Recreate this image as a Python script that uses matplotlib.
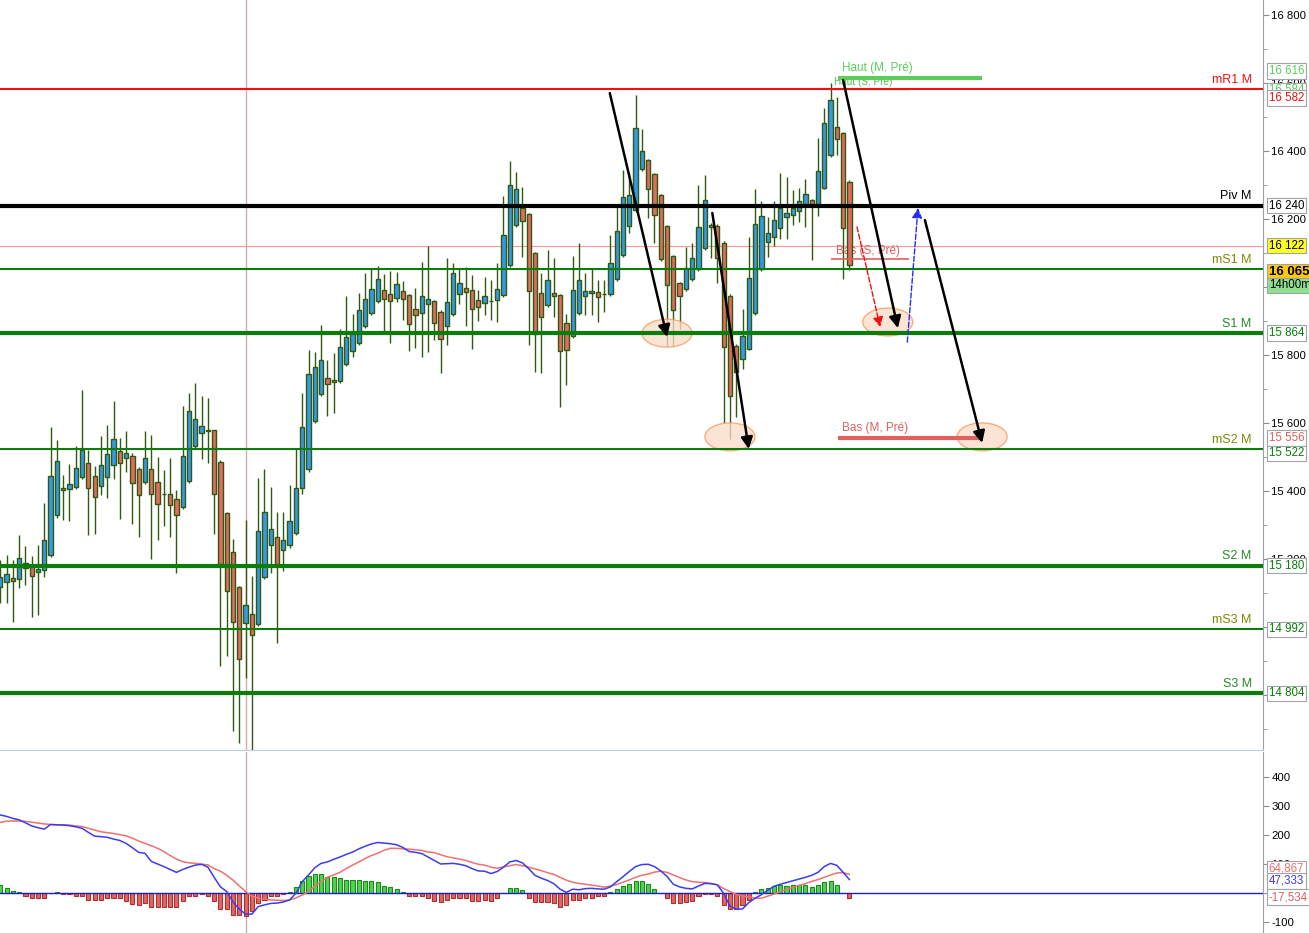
import matplotlib
matplotlib.use("Agg")
import matplotlib.pyplot as plt
import matplotlib.transforms as mtransforms
from matplotlib.patches import Ellipse
from matplotlib.ticker import FuncFormatter, MultipleLocator

plt.rcParams['font.family'] = ['Liberation Sans', 'DejaVu Sans']
plt.rcParams['axes.unicode_minus'] = False

# --- candles ---
opens = [15116, 15133, 15142, 15139, 15188, 15175, 15162, 15166, 15210, 15328,
         15407, 15404, 15412, 15440, 15481, 15445, 15413, 15442, 15475, 15516,
         15497, 15504, 15463, 15425, 15463, 15425, 15392, 15392, 15375, 15351,
         15428, 15531, 15569, 15578, 15578, 15484, 15334, 15219, 15116, 15010,
         15036, 15007, 15145, 15240, 15263, 15225, 15240, 15275, 15407, 15463,
         15605, 15684, 15733, 15725, 15722, 15772, 15811, 15834, 15884, 15923,
         15958, 15990, 15978, 15967, 15987, 15976, 15934, 15925, 15949, 15958,
         15925, 15884, 15920, 15978, 15996, 15990, 15961, 15952, 15960, 15961,
         15976, 16064, 16182, 16232, 16214, 16099, 15981, 15946, 15981, 15976,
         15893, 15855, 15923, 15973, 15981, 15984, 15980, 15978, 16023, 16093,
         16179, 16227, 16346, 16373, 16332, 16270, 16179, 16090, 16011, 15993,
         16023, 16052, 16114, 16184, 16181, 16131, 15975, 15827, 15787, 15819,
         15923, 16052, 16132, 16146, 16173, 16205, 16211, 16223, 16243, 16255,
         16243, 16293, 16388, 16470, 16452, 16310]
highs = [15196, 15211, 15196, 15270, 15237, 15208, 15240, 15363, 15588, 15549,
         15448, 15479, 15532, 15697, 15520, 15473, 15561, 15594, 15664, 15555,
         15576, 15512, 15469, 15576, 15564, 15499, 15461, 15496, 15401, 15649,
         15687, 15717, 15679, 15673, 15580, 15490, 15338, 15258, 15120, 15314,
         15149, 15439, 15464, 15411, 15338, 15338, 15416, 15526, 15687, 15815,
         15809, 15887, 15785, 15805, 15875, 15974, 15921, 15981, 16040, 16053,
         16062, 16038, 16046, 16044, 16018, 15980, 15997, 16074, 16121, 15962,
         15932, 16086, 16071, 16053, 16059, 16035, 15991, 16030, 16021, 16071,
         16268, 16371, 16338, 16294, 16218, 16103, 16040, 16109, 16084, 15980,
         15920, 16091, 16129, 16040, 16052, 16021, 16022, 16153, 16244, 16344,
         16339, 16565, 16464, 16377, 16336, 16274, 16183, 16094, 16015, 16119,
         16129, 16300, 16329, 16188, 16185, 16135, 15979, 15831, 15934, 16146,
         16288, 16252, 16205, 16252, 16335, 16325, 16285, 16293, 16317, 16259,
         16438, 16526, 16600, 16560, 16456, 16314]
lows = [15071, 15069, 15015, 15113, 15123, 15030, 15034, 15147, 15205, 15320,
        15314, 15312, 15406, 15435, 15270, 15274, 15388, 15380, 15436, 15318,
        15456, 15303, 15263, 15420, 15200, 15254, 15297, 15265, 15157, 15346,
        15423, 15526, 15494, 15481, 15274, 14885, 14915, 14694, 14659, 14848,
        14637, 15002, 15140, 15159, 14953, 15165, 15231, 15270, 15390, 15455,
        15600, 15680, 15621, 15630, 15718, 15768, 15793, 15830, 15880, 15918,
        15953, 15867, 15834, 15957, 15903, 15812, 15821, 15795, 15808, 15844,
        15748, 15830, 15915, 15949, 15886, 15817, 15901, 15919, 15904, 15898,
        15972, 16060, 16178, 16089, 15829, 15751, 15748, 15940, 15911, 15646,
        15713, 15850, 15918, 15918, 15918, 15896, 15927, 15973, 16018, 16088,
        16158, 16222, 16341, 16202, 16129, 16078, 15827, 15827, 15875, 15988,
        16018, 16047, 16109, 16084, 16011, 15599, 15552, 15616, 15758, 15814,
        15918, 16047, 16087, 16120, 16140, 16140, 16184, 16190, 16178, 16079,
        16208, 16288, 16383, 16388, 16025, 16050]
closes = [15147, 15154, 15136, 15201, 15172, 15148, 15169, 15254, 15445, 15487,
          15401, 15419, 15466, 15520, 15407, 15381, 15475, 15508, 15554, 15481,
          15510, 15422, 15387, 15498, 15390, 15360, 15391, 15357, 15328, 15504,
          15634, 15610, 15590, 15577, 15390, 15186, 15104, 15013, 14904, 15063,
          14977, 15281, 15337, 15287, 15186, 15254, 15310, 15407, 15587, 15743,
          15766, 15784, 15714, 15719, 15822, 15852, 15864, 15931, 15964, 15993,
          16023, 15964, 15958, 16008, 15964, 15890, 15917, 15975, 15964, 15893,
          15846, 15955, 16040, 16011, 15984, 15934, 15940, 15973, 15959, 15993,
          16152, 16299, 16288, 16193, 15987, 15863, 15911, 16020, 15973, 15811,
          15814, 15990, 16020, 15989, 15989, 15971, 15979, 16070, 16164, 16264,
          16270, 16467, 16399, 16290, 16211, 16083, 16005, 15931, 15973, 16055,
          16084, 16176, 16255, 16176, 16084, 15822, 15680, 15749, 15855, 16026,
          16187, 16208, 16158, 16196, 16232, 16217, 16232, 16252, 16273, 16243,
          16343, 16482, 16550, 16435, 16173, 16065]

# --- MACD panel ---
macd_line = [270, 265, 258, 253, 243, 232, 226, 221, 237, 236,
             235, 233, 229, 224, 210, 197, 195, 193, 187, 182,
             172, 157, 141, 138, 110, 101, 92, 82, 72, 82,
             90, 97, 100, 90, 55, 22, 6, -30, -55, -72,
             -72, -46, -40, -35, -34, -30, -23, 0, 40, 63,
             88, 103, 108, 117, 125, 134, 142, 153, 162, 170,
             175, 173, 171, 167, 158, 144, 141, 137, 125, 113,
             101, 102, 103, 100, 95, 85, 77, 76, 68, 75,
             90, 108, 113, 105, 85, 62, 52, 44, 33, 14,
             3, 14, 12, 16, 17, 15, 14, 22, 40, 57,
             75, 92, 99, 100, 92, 77, 58, 31, 22, 17,
             15, 25, 34, 33, 29, 0, -44, -55, -54, -32,
             -17, -5, 10, 24, 31, 37, 43, 49, 55, 62,
             72, 92, 103, 96, 72, 47]
signal_line = [244, 249, 249, 249, 248, 245, 242, 239, 237, 236,
               236, 235, 232, 230, 224, 218, 212, 209, 206, 202,
               198, 190, 180, 172, 164, 155, 144, 130, 118, 109,
               105, 103, 100, 98, 85, 76, 62, 45, 25, 6,
               -10, -17, -20, -23, -24, -25, -23, -16, -6, 6,
               25, 40, 55, 63, 72, 85, 97, 108, 120, 130,
               138, 148, 155, 155, 153, 152, 150, 148, 142, 140,
               133, 126, 122, 118, 113, 106, 100, 97, 90, 86,
               91, 95, 99, 95, 90, 84, 78, 71, 65, 55,
               45, 38, 34, 31, 28, 25, 21, 25, 30, 38,
               46, 55, 62, 66, 73, 76, 72, 63, 54, 46,
               40, 38, 37, 34, 29, 16, 6, -4, -9, -12,
               -17, -17, -10, -3, 5, 14, 20, 27, 33, 41,
               47, 55, 63, 70, 71, 65]
macd_hist = [29, 17, 8, 3, -8, -15, -18, -18, 0, 3,
             -4, -4, -8, -11, -22, -22, -22, -18, -18, -18,
             -25, -36, -39, -32, -48, -46, -46, -48, -46, -25,
             -11, -11, -4, -8, -25, -55, -55, -76, -76, -79,
             -62, -32, -22, -11, -11, -2, 3, 21, 41, 59,
             65, 65, 55, 55, 52, 45, 45, 45, 41, 41,
             38, 24, 21, 14, 3, -11, -11, -8, -18, -25,
             -31, -24, -18, -15, -18, -25, -25, -22, -25, -15,
             0, 17, 17, 10, -15, -29, -29, -29, -32, -46,
             -42, -24, -22, -15, -15, -11, -11, 3, 14, 24,
             31, 41, 41, 31, 14, 0, -18, -32, -32, -29,
             -25, -8, -4, -4, -11, -42, -53, -55, -42, -22,
             5, 14, 17, 24, 28, 24, 28, 28, 28, 21,
             28, 38, 41, 28, 0, -17.534]

# --- monthly pivot levels ---
level_names = ["mR1 M", "Piv M", "mS1 M", "S1 M", "mS2 M", "S2 M", "mS3 M", "S3 M"]
level_values = [16582, 16240, 16052, 15864, 15522, 15180, 14992, 14804]

prev_month_high = 16616
prev_week_high = 16584
prev_week_low = 16082
prev_month_low = 15556
cursor_bar = 39
cursor_price = 16122
last_price = 16065
time_left = "14h00m"
macd_last, signal_last, hist_last = 47.333, 64.867, -17.534

fmt_price = lambda v: f"{int(round(v)):,}".replace(",", " ")

fig = plt.figure(figsize=(13.09, 9.33), dpi=100)
ax = fig.add_axes([0, 183 / 933, 1263 / 1309, 750 / 933])
ax2 = fig.add_axes([0, 0, 1263 / 1309, 181 / 933])

n = len(closes)
idx = list(range(n))
xmin, xmax = -0.048, 200.75

# candles
wick_col = '#2f5a10'
ax.vlines(idx, lows, highs, color=wick_col, lw=1.0, zorder=2)
up = [c >= o for o, c in zip(opens, closes)]
ax.bar(idx, [abs(c - o) for o, c in zip(opens, closes)],
       bottom=[min(o, c) for o, c in zip(opens, closes)], width=0.68,
       color=['#3399e6' if u else '#e26a60' for u in up],
       edgecolor=wick_col, linewidth=1.0, zorder=3)

# cursor lines
ax.axhline(cursor_price, color='#f0a0a0', lw=0.9, zorder=1)
for a in (ax, ax2):
    a.axvline(cursor_bar, color='#d4aaaa', lw=1.0, zorder=1)

# pivot levels
lab_tr = mtransforms.blended_transform_factory(ax.transAxes, ax.transData)
for name, val in zip(level_names, level_values):
    if name.startswith("mR"):
        col, lw, tcol = '#ee1111', 1.5, '#ee1111'
    elif name.startswith("Piv"):
        col, lw, tcol = 'black', 3.0, 'black'
    elif name.startswith("m"):
        col, lw, tcol = '#0a7d0a', 1.5, '#7a8a00'
    else:
        col, lw, tcol = '#0a7d0a', 3.0, '#2a8a2a'
    ax.axhline(val, color=col, lw=lw, zorder=4)
    ax.text(0.991, val + 10, name, transform=lab_tr, ha='right', va='bottom',
            fontsize=9, color=tcol, zorder=6)

# previous high/low markers
ax.hlines(prev_week_high, 132.4, 144.5, color='#5ccc5c', lw=1.0, zorder=3)
ax.text(132.6, prev_week_high + 4, "Haut (S, Pré)", fontsize=7.2, color='#4cc04c',
        va='bottom', zorder=3)
ax.hlines(prev_month_high, 133.2, 156.1, color='#5ccc5c', lw=3.0, zorder=5)
ax.text(133.8, prev_month_high + 10, "Haut (M, Pré)", fontsize=8.5, color='#5ccc5c',
        va='bottom', zorder=5)
ax.hlines(prev_week_low, 132.1, 144.5, color='#e06060', lw=1.2, zorder=5)
ax.text(132.9, prev_week_low + 6, "Bas (S, Pré)", fontsize=8.5, color='#e06060',
        va='bottom', zorder=2)
ax.hlines(prev_month_low, 133.2, 156.1, color='#e06060', lw=3.0, zorder=5)
ax.text(133.8, prev_month_low + 10, "Bas (M, Pré)", fontsize=8.5, color='#e06060',
        va='bottom', zorder=5)

# target ellipses
for cx, cy in [(106.0, 15864), (116.0, 15559), (141.1, 15897), (156.1, 15559)]:
    ax.add_patch(Ellipse((cx, cy), 7.95, 82, facecolor='#fcdcc8', alpha=0.75,
                         edgecolor='#f39a5c', lw=1.0, zorder=3.5))

# scenario arrows
for (x0, y0), (x1, y1) in [((96.9, 16571), (106.0, 15853)),
                           ((113.2, 16218), (119.0, 15523)),
                           ((134.0, 16609), (142.7, 15879)),
                           ((147.0, 16197), (156.1, 15541))]:
    ax.annotate("", xy=(x1, y1), xytext=(x0, y0), zorder=7,
                arrowprops=dict(arrowstyle='-|>,head_length=0.7,head_width=0.35',
                                color='black', lw=1.8, shrinkA=0, shrinkB=0))
ax.annotate("", xy=(139.9, 15882), xytext=(136.2, 16177), zorder=7,
            arrowprops=dict(arrowstyle='-|>,head_length=0.6,head_width=0.3',
                            color='#ee1111', lw=1.0, ls='--', shrinkA=0, shrinkB=0))
ax.annotate("", xy=(145.9, 16233), xytext=(144.2, 15838), zorder=7,
            arrowprops=dict(arrowstyle='-|>,head_length=0.6,head_width=0.3',
                            color='#2030ee', lw=1.0, ls='--', shrinkA=0, shrinkB=0))

# main axis styling
ax.set_xlim(xmin, xmax)
ax.set_ylim(14637, 16845)
ax.set_xticks([])
ax.yaxis.tick_right()
ax.yaxis.set_major_locator(MultipleLocator(200))
ax.yaxis.set_minor_locator(MultipleLocator(100))
ax.yaxis.set_major_formatter(FuncFormatter(lambda v, _: fmt_price(v)))
ax.tick_params(axis='y', which='major', direction='out', length=4, pad=2,
               labelsize=8.2, color='#8890a0', labelcolor='black')
ax.tick_params(axis='y', which='minor', direction='out', length=3, color='#8890a0')
for s in ('top', 'left'):
    ax.spines[s].set_visible(False)
ax.spines['right'].set_color('#9aa0ac')
ax.spines['bottom'].set_color('#c4cad6')


def box(a, y, text, color, fc='white', bold=False, size=8.3):
    tr = mtransforms.blended_transform_factory(a.transAxes, a.transData)
    a.text(1.0045, y, text, transform=tr, ha='left', va='center', fontsize=size,
           color=color, fontweight='bold' if bold else 'normal', clip_on=False,
           zorder=10, bbox=dict(boxstyle='square,pad=0.15', fc=fc, ec='#a0a4aa', lw=0.8))


# right-hand value boxes
box(ax, prev_week_high - 5, fmt_price(prev_week_high), '#5ccc5c')
box(ax, prev_month_high + 20, fmt_price(prev_month_high), '#5ccc5c')
box(ax, level_values[0] - 25, fmt_price(level_values[0]), '#ee1111')
box(ax, level_values[1], fmt_price(level_values[1]), 'black')
box(ax, cursor_price, fmt_price(cursor_price), 'black', fc='#ffff20')
box(ax, last_price - 20, fmt_price(last_price), 'black', fc='#ffc90e', bold=True, size=9.5)
box(ax, last_price - 60, time_left, 'black', fc='#8fdf8f')
box(ax, level_values[3], fmt_price(level_values[3]), '#0a7d0a')
box(ax, prev_month_low, fmt_price(prev_month_low), '#e06060')
box(ax, level_values[4] - 12, fmt_price(level_values[4]), '#0a7d0a')
for v in level_values[5:]:
    box(ax, v, fmt_price(v), '#0a7d0a')

# MACD panel
ax2.bar(idx, macd_hist, width=0.65,
        color=['#4fd44f' if h >= 0 else '#e06666' for h in macd_hist],
        edgecolor=['#1a8a1a' if h >= 0 else '#b03030' for h in macd_hist],
        linewidth=0.8, zorder=2)
ax2.axhline(0, color='#2020c0', lw=1.0, zorder=3)
ax2.plot(idx, signal_line, color='#ee7070', lw=1.1, zorder=4)
ax2.plot(idx, macd_line, color='#3c3cee', lw=1.1, zorder=5)
ax2.set_xlim(xmin, xmax)
ax2.set_ylim(-137, 487)
ax2.set_xticks([])
ax2.yaxis.tick_right()
ax2.yaxis.set_major_locator(MultipleLocator(100))
ax2.tick_params(axis='y', direction='out', length=4, pad=2, labelsize=8.2,
                color='#8890a0', labelcolor='black')
for s in ('top', 'left', 'bottom'):
    ax2.spines[s].set_visible(False)
ax2.spines['right'].set_color('#9aa0ac')

box(ax2, 84, f"{signal_last:.3f}".replace(".", ","), '#ee7070')
box(ax2, 43, f"{macd_last:.3f}".replace(".", ","), '#3c3cee')
box(ax2, -13, f"{hist_last:.3f}".replace(".", ","), '#e06060')

fig.savefig("out.png", dpi=100, facecolor='white')
